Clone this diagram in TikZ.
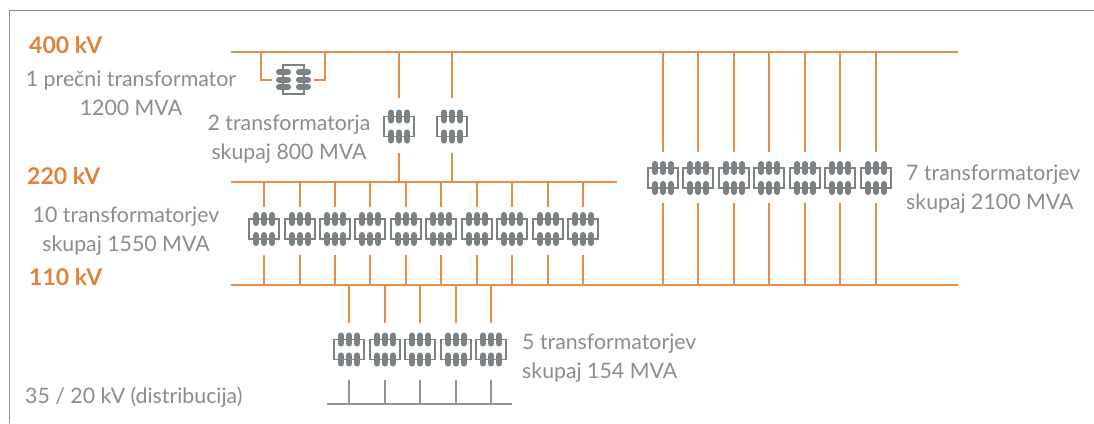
\documentclass[tikz,border=0pt]{standalone}
\usepackage{fontspec}
\setmainfont{Lato}
\definecolor{busorange}{HTML}{E98C45}
\definecolor{headorange}{HTML}{E2823A}
\definecolor{symgrey}{HTML}{7C8184}
\definecolor{txtgrey}{HTML}{8A8C8E}
\definecolor{framegrey}{HTML}{8C8C8C}
\tikzset{
  x=1pt,y=-1pt,
  busline/.style={draw=busorange,line width=2pt},
  stubline/.style={draw=busorange,line width=2pt},
  greybus/.style={draw=symgrey!85,line width=2pt},
  greystub/.style={draw=symgrey!85,line width=2pt},
  framerule/.style={draw=framegrey,line width=1.2pt},
  slot/.style={inner sep=0pt,outer sep=0pt,minimum width=30pt},
  heading/.style={text=headorange,font=\fontsize{23}{27}\selectfont\bfseries,anchor=west,inner sep=0pt},
  label/.style={text=txtgrey,font=\fontsize{21.3}{29}\selectfont,align=center,inner sep=0pt},
  xfsym/.pic={
    \draw[symgrey,line width=1.6pt] (-15,-10) rectangle (15,10);
    \foreach \cx in {-8,0,8}\foreach \cy in {-10,10}
      \draw[symgrey,line width=6pt,line cap=round] (\cx,\cy-4) -- (\cx,\cy+4);
  },
  xfsymrot/.pic={
    \draw[symgrey,line width=1.6pt] (-10.5,-14.5) rectangle (10.5,14.5);
    \foreach \cy in {-7.5,0,7.5}\foreach \cx in {-10,10}
      \draw[symgrey,line width=6pt,line cap=round] (\cx-4.5,\cy) -- (\cx+4.5,\cy);
  },
}
% name, x, symbol centre y, slot top y, slot bottom y
\newcommand{\xfmr}[5]{%
  \pic at (#2,#3) {xfsym};
  \node[slot,minimum height={(#5-#4)*1pt}] (#1) at (#2,{(#4+#5)/2}) {};
}
\begin{document}
\begin{tikzpicture}
\useasboundingbox (0,0) rectangle (1094,423);
\fill[white] (0,0) rectangle (1094,423);
\coordinate (fA) at (9.5,423);
\coordinate (fB) at (9.5,10.5);
\coordinate (fC) at (1094,10.5);
\draw[framerule] (fA) -- (fB) -- (fC);

% buses
\coordinate (b400L) at (231,52);  \coordinate (b400R) at (958,52);
\coordinate (b220L) at (231,182); \coordinate (b220R) at (617,182);
\coordinate (b110L) at (231,285); \coordinate (b110R) at (958,285);
\coordinate (bdL) at (327,404);   \coordinate (bdR) at (512,404);
\draw[busline] (b400L) -- (b400R);
\draw[busline] (b220L) -- (b220R);
\draw[busline] (b110L) -- (b110R);
\draw[greybus] (bdL) -- (bdR);

% phase-shifting transformer
\pic at (293.5,79.5) {xfsymrot};
\node[inner sep=0pt,outer sep=0pt,minimum width=42pt,minimum height=30pt] (ps) at (293,80) {};
\draw[stubline] (ps.west) -| (261,52);
\draw[stubline] (ps.east) -| (325,52);

% 400/220
\xfmr{a1}{399}{126.5}{98}{153}
\xfmr{a2}{452}{126.5}{98}{153}
\foreach \n in {a1,a2}{
  \draw[stubline] (\n.north |- b400L) -- (\n.north);
  \draw[stubline] (\n.south) -- (\n.south |- b220L);
}

% 220/110
\foreach \i/\x in {1/264,2/300,3/335,4/370,5/406,6/441,7/477,8/512,9/548,10/583}{
  \xfmr{b\i}{\x}{229}{207}{255}
  \draw[stubline] (b\i.north |- b220L) -- (b\i.north);
  \draw[stubline] (b\i.south) -- (b\i.south |- b110L);
}

% 400/110
\foreach \i/\x in {1/663,2/698,3/734,4/769,5/805,6/840,7/876}{
  \xfmr{c\i}{\x}{178}{152}{203}
  \draw[stubline] (c\i.north |- b400L) -- (c\i.north);
  \draw[stubline] (c\i.south) -- (c\i.south |- b110L);
}

% 110/distribution
\foreach \i/\x in {1/349,2/385,3/420,4/456,5/491}{
  \xfmr{d\i}{\x}{349.5}{323}{380}
  \draw[stubline] (d\i.north |- b110L) -- (d\i.north);
  \draw[greystub] (d\i.south) -- (d\i.south |- bdL);
}

% labels
\node[heading] (h400) at (29,45) {400 kV};
\node[heading] (h220) at (27,176) {220 kV};
\node[heading] (h110) at (29,277) {110 kV};
\node[label] (l1) at (131,93) {1 prečni transformator\\1200 MVA};
\node[label] (l2) at (289,139.5) {2 transformatorja\\skupaj 800 MVA};
\node[label] (l3) at (126,231) {10 transformatorjev\\skupaj 1550 MVA};
\node[label,align=left,anchor=west] (l4) at (522,358) {5 transformatorjev\\skupaj 154 MVA};
\node[label,align=left,anchor=west] (l5) at (906,189.5) {7 transformatorjev\\skupaj 2100 MVA};
\node[label,anchor=west] (l6) at (25,397) {35 / 20 kV (distribucija)};
\end{tikzpicture}
\end{document}
